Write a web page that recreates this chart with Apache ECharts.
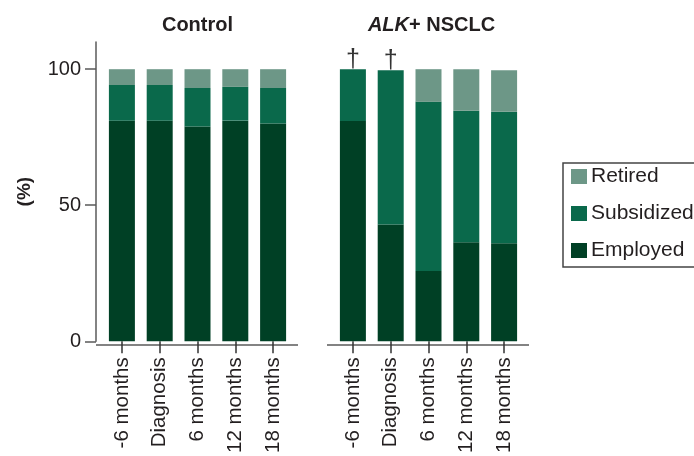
<!DOCTYPE html>
<html>
<head>
<meta charset="utf-8">
<script src="https://cdn.jsdelivr.net/npm/echarts@6/dist/echarts.min.js"></script>
<style>html,body{margin:0;padding:0;background:#fff;}#chart{width:694px;height:456px;}</style>
</head>
<body>
<div id="chart"></div>
<script>
var categories = ['-6 months', 'Diagnosis', '6 months', '12 months', '18 months'];
var controlEmployed = [81.1, 81.1, 78.9, 81.1, 80.0];
var controlSubsidized = [13.1, 13.1, 14.2, 12.4, 13.1];
var controlRetired = [5.8, 5.8, 6.9, 6.5, 6.9];
var alkEmployed = [81.0, 42.9, 25.8, 36.4, 36.0];
var alkSubsidized = [19.0, 56.7, 62.2, 48.3, 48.4];
var alkRetired = [0, 0, 12.0, 15.3, 15.2];
var alkNotes = ['\u2020', '\u2020', '', '', ''];
var yTicks = [0, 50, 100];

var colEmployed = '#004025';
var colSubsidized = '#0a694b';
var colRetired = '#6d9787';
var txt = '#231f20';
var axisCol = '#5a5a5a';
var font = 'Liberation Sans, Arial, Helvetica, sans-serif';

var g1 = {left: 103, top: 42, width: 189, height: 303};
var g2 = {left: 334, top: 42, width: 189, height: 303};

var chart = echarts.init(document.getElementById('chart'));

function xAxisFor(idx) {
  return {
    type: 'category', gridIndex: idx, data: categories,
    axisLine: {show: false},
    axisTick: {show: true, alignWithLabel: true, length: 12, lineStyle: {color: '#333', width: 1.5}},
    axisLabel: {rotate: 90, margin: 16, fontSize: 20.5, color: txt, fontFamily: font}
  };
}
function yAxisFor(idx, show) {
  return {
    type: 'value', gridIndex: idx, min: 0, max: 110, show: show, offset: 7,
    splitLine: {show: false},
    axisLine: {show: true, lineStyle: {color: axisCol, width: 1.5}},
    axisTick: {show: true, length: 11, customValues: yTicks, lineStyle: {color: axisCol, width: 1.5}},
    axisLabel: {customValues: yTicks, margin: 15, fontSize: 20, color: txt, fontFamily: font},
    name: show ? '(%)' : '', nameLocation: 'middle', nameGap: 62, nameRotate: 90,
    nameTextStyle: {fontSize: 19, fontWeight: 'bold', color: txt, fontFamily: font}
  };
}
function bar(name, data, idx, color, extra) {
  var s = {
    name: name, type: 'bar', stack: 'g' + idx, xAxisIndex: idx, yAxisIndex: idx,
    data: data, barWidth: 26, itemStyle: {color: color}, emphasis: {disabled: true}
  };
  if (extra) { for (var k in extra) s[k] = extra[k]; }
  return s;
}

function axisLineGraphic(g) {
  return {
    type: 'line', silent: true,
    shape: {x1: g.left - 7, y1: g.top + g.height, x2: g.left + g.width + 6, y2: g.top + g.height},
    style: {stroke: axisCol, lineWidth: 1.5}
  };
}

chart.setOption({
  animation: false,
  backgroundColor: '#fff',
  textStyle: {fontFamily: font},
  title: [
    {text: 'Control', left: g1.left + g1.width / 2, textAlign: 'center', top: 15, padding: 0,
     textStyle: {fontSize: 20, fontWeight: 'bold', color: txt, fontFamily: font}},
    {text: '{i|ALK}+ NSCLC', left: g2.left + g2.width / 2 + 3, textAlign: 'center', top: 15, padding: 0,
     textStyle: {fontSize: 20, fontWeight: 'bold', color: txt, fontFamily: font,
       rich: {i: {fontSize: 20, fontWeight: 'bold', fontStyle: 'italic', color: txt, fontFamily: font}}}}
  ],
  legend: {
    orient: 'vertical', left: 563, top: 163,
    data: ['Retired', 'Subsidized', 'Employed'],
    icon: 'rect',
    itemWidth: 16, itemHeight: 15, itemGap: 16, itemStyle: {borderWidth: 0},
    padding: [3, 0, 7, 8],
    borderWidth: 0,
    textStyle: {fontSize: 21, color: txt, fontFamily: font, lineHeight: 21, padding: [0, 0, 0, -1]},
    selectedMode: false
  },
  grid: [g1, g2],
  xAxis: [xAxisFor(0), xAxisFor(1)],
  yAxis: [yAxisFor(0, true), yAxisFor(1, false)],
  series: [
    bar('Employed', controlEmployed, 0, colEmployed),
    bar('Subsidized', controlSubsidized, 0, colSubsidized),
    bar('Retired', controlRetired, 0, colRetired),
    bar('Employed', alkEmployed, 1, colEmployed),
    bar('Subsidized', alkSubsidized, 1, colSubsidized),
    bar('Retired', alkRetired, 1, colRetired, {
      label: {show: true, position: 'top', distance: -3, fontSize: 25, color: '#333', fontFamily: font,
        formatter: function (p) { return alkNotes[p.dataIndex]; }}
    })
  ],
  graphic: [
    axisLineGraphic(g1), axisLineGraphic(g2),
    {type: 'rect', silent: true, shape: {x: 563, y: 163, width: 160, height: 104},
     style: {fill: 'none', stroke: '#444', lineWidth: 1.5}}
  ]
});
</script>
</body>
</html>
